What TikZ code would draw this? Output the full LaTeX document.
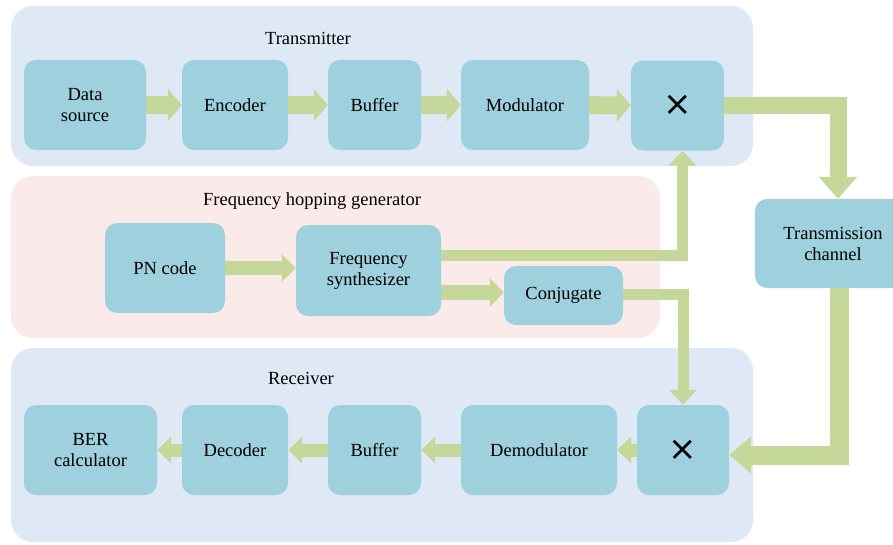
\documentclass[tikz,border=0pt]{standalone}
\usepackage{fontspec}
\setmainfont{Liberation Serif}
\newfontfamily\symfont{DejaVu Sans}
\usetikzlibrary{arrows.meta}

\definecolor{panelblue}{RGB}{223,233,246}
\definecolor{panelpink}{RGB}{251,234,234}
\definecolor{boxcyan}{RGB}{158,208,222}
\definecolor{flowgreen}{RGB}{197,216,154}

\begin{document}
\begin{tikzpicture}[
    x=1pt, y=1pt,
    font=\fontsize{18.5}{21}\selectfont,
    panel/.style={rounded corners=22pt},
    blk/.style={fill=boxcyan, rounded corners=12pt, minimum height=90pt,
        align=center, inner sep=0pt},
    mulsym/.style={font=\symfont\fontsize{34}{34}\selectfont},
    flow/.style={draw=flowgreen, line join=miter},
    txarr/.style={flow, line width=18pt, -{Triangle[length=14pt, width=32pt]}},
    rxarr/.style={flow, line width=13pt, -{Triangle[length=14pt, width=26pt]}},
    hoparr/.style={flow, line width=11pt, -{Triangle[length=15pt, width=27pt]}},
    chanarr/.style={flow, line width=17pt, -{Triangle[length=22pt, width=37pt]}},
  ]
  \useasboundingbox (0,0) rectangle (893,-544);

  % panels
  \fill[panelblue, panel] (11,-6) rectangle (753,-166);
  \fill[panelpink, panel] (11,-176) rectangle (660,-338);
  \fill[panelblue, panel] (11,-348) rectangle (753,-542);
  \node (txlab) at (308,-38) {Transmitter};
  \node (fhlab) at (312,-201) {Frequency hopping generator};
  \node (rxlab) at (301,-378) {Receiver};

  % transmitter chain
  \foreach \nm/\cx/\bw/\txt in {dsrc/85/122/{Data\\source}, enc/235/106/Encoder,
      tbuf/374.5/93/Buffer, mod/525/128/Modulator} {
      \node[blk, minimum width=\bw pt] (\nm) at (\cx,-105) {\txt};
    }
  \node[blk, minimum width=93pt, mulsym] (tmul) at (677.5,-105.5) {×};

  % hopping generator
  \node[blk, minimum width=120pt] (pn) at (165,-268) {PN code};
  \node[blk, minimum width=145pt, minimum height=91pt] (fsyn) at (368.5,-270.5) {Frequency\\synthesizer};
  \node[blk, minimum width=119pt, minimum height=59pt] (conj) at (563.5,-295.5) {Conjugate};
  \node[blk, minimum width=156pt, minimum height=89pt] (chan) at (833,-243.5) {Transmission\\channel};

  % receiver chain
  \foreach \nm/\cx/\bw/\txt in {ber/90.5/133/{BER\\calculator}, dec/235/106/Decoder,
      rbuf/374.5/93/Buffer, demod/539/156/Demodulator} {
      \node[blk, minimum width=\bw pt] (\nm) at (\cx,-450) {\txt};
    }
  \node[blk, minimum width=92pt, mulsym] (rmul) at (683,-450) {×};

  % flows
  \foreach \a/\b in {dsrc/enc, enc/tbuf, tbuf/mod, mod/tmul} {
      \draw[txarr] (\a) -- (\b);
    }
  \foreach \a/\b in {rmul/demod, demod/rbuf, rbuf/dec, dec/ber} {
      \draw[rxarr] (\a) -- (\b);
    }
  \draw[flow, line width=14pt, -{Triangle[length=14pt, width=27pt]}]
    (pn.east) -- (pn.east -| fsyn.west);
  \draw[flow, line width=15pt, -{Triangle[length=14pt, width=28pt]}]
    ([yshift=-22pt]fsyn.east) -- ([yshift=3pt]conj.west);
  \draw[hoparr] ([yshift=15pt]fsyn.east) -| ([xshift=5pt]tmul.south);
  \draw[hoparr] ([yshift=1pt]conj.east) -| (rmul.north);
  \draw[chanarr] (tmul.east) -| ([xshift=5pt]chan.north);
  \draw[chanarr, line width=19pt, -{Triangle[length=22pt, width=36pt]}]
    ([xshift=6pt]chan.south) |- ([yshift=-5pt]rmul.east);
\end{tikzpicture}
\end{document}
